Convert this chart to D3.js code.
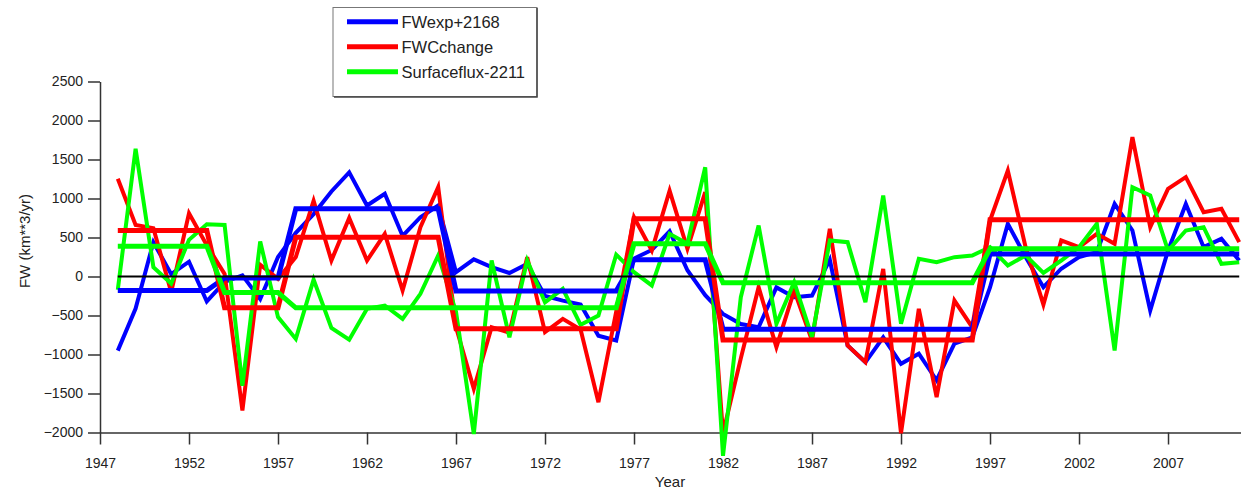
<!DOCTYPE html>
<html>
<head>
<meta charset="utf-8">
<script src="https://cdn.jsdelivr.net/npm/d3@7"></script>
<style>
  html, body { margin: 0; padding: 0; background: #fff; }
  svg { display: block; font-family: "Liberation Sans", Arial, sans-serif; }
</style>
</head>
<body>
<svg id="chart" width="1241" height="490"></svg>
<script>
// Annual freshwater budget terms, 1948-2011 (km^3/yr)
const years = d3.range(1948, 2012);

const fwExp = [
  -950, -410, 440, 30, 190, -320, -70, 15, -290, 250,
  560, 800, 1090, 1335, 910, 1060, 520, 760, 910, 55,
  220, 120, 45, 160, -250, -310, -360, -760, -820, 230,
  340, 580, 80, -240, -480, -610, -650, -140, -265, -245,
  215, -885, -1100, -780, -1120, -990, -1330, -860, -780, -140,
  675, 250, -137, 100, 248, 312, 930, 590, -436, 333,
  930, 376, 483, 205
];

const fwcChange = [
  1252, 660, 620, -200, 810, 400, 34, -1718, 150, -30,
  250, 970, 205, 750, 205, 547, -180, 632, 1145, -650,
  -1440, -650, -720, 248, -714, -543, -680, -1611, -450, 760,
  333, 1100, 355, 1081, -2010, -1050, -137, -906, -180, -820,
  610, -885, -1098, 98, -2010, -415, -1547, -308, -650, 718,
  1359, 376, -360, 462, 376, 547, 419, 1787, 632, 1124,
  1274, 825, 868, 440
];

const surfaceFlux = [
  -170, 1637, 120, -90, 470, 670, 660, -1400, 450, -521,
  -800, -40, -660, -810, -415, -372, -543, -222, 270, -450,
  -2020, 205, -778, 205, -330, -158, -620, -500, 280, 55,
  -115, 547, 419, 1400, -2300, -265, 654, -607, -73, -778,
  462, 440, -329, 1039, -607, 226, 184, 248, 270, 376,
  141, 270, 45, 205, 376, 675, -949, 1145, 1039, 333,
  590, 632, 162, 184
];

// Regime periods and the mean of each series over them
const regimeStart = [1948, 1954, 1958, 1967, 1977, 1982, 1997];
const regimeEnd   = [1953, 1957, 1966, 1976, 1981, 1996, 2011];
const fwExpMean       = [-180, -20, 870, -185, 214, -675, 290];
const fwcChangeMean   = [590, -400, 502, -671, 739, -815, 727];
const surfaceFluxMean = [389, -205, -402, -402, 419, -80, 355];

const seriesNames = ["FWexp+2168", "FWCchange", "Surfaceflux-2211"];
const seriesColors = ["#0000ff", "#ff0000", "#00ff00"];

const yTicks = d3.range(-2000, 2501, 500);
const xTicks = d3.range(1947, 2008, 5);

const svg = d3.select("#chart");

const x = d3.scaleLinear().domain([1947, 2011.1]).range([100, 1241]);
const y = d3.scaleLinear().domain([-2000, 2500]).range([432.5, 81.5]);

// Axes
const axisColor = "#333";
const gx = svg.append("g")
  .attr("transform", `translate(0,${y(-2000)})`)
  .call(d3.axisBottom(x).tickValues(xTicks).tickFormat(d3.format("d"))
    .tickSize(12).tickSizeOuter(0).tickPadding(14));
const gy = svg.append("g")
  .attr("transform", `translate(${x(1947)},0)`)
  .call(d3.axisLeft(y).tickValues(yTicks).tickFormat(d3.format("d"))
    .tickSize(12).tickSizeOuter(0).tickPadding(5));

[gx, gy].forEach(g => {
  g.select(".domain").attr("stroke", axisColor).attr("stroke-width", 1.5);
  g.selectAll(".tick line").attr("stroke", axisColor).attr("stroke-width", 1.5);
  g.selectAll(".tick text").attr("fill", "#222").attr("font-size", 14)
    .attr("font-family", "Liberation Sans, Arial, sans-serif");
});

// Axis titles
svg.append("text")
  .attr("x", 670).attr("y", 487)
  .attr("text-anchor", "middle")
  .attr("font-size", 15).attr("fill", "#222")
  .text("Year");

svg.append("text")
  .attr("transform", `translate(30,241) rotate(-90)`)
  .attr("text-anchor", "middle")
  .attr("font-size", 15).attr("fill", "#222")
  .text("FW (km**3/yr)");

// Lines
const line = d3.line().x(d => x(d[0])).y(d => y(d[1]));

function stepPoints(means) {
  const pts = [];
  means.forEach((m, i) => {
    pts.push([regimeStart[i], m]);
    pts.push([regimeEnd[i], m]);
  });
  return pts;
}

const plot = svg.append("g");
const yearly = [fwExp, fwcChange, surfaceFlux];
const means = [fwExpMean, fwcChangeMean, surfaceFluxMean];

yearly.forEach((vals, i) => {
  plot.append("path")
    .datum(years.map((yr, j) => [yr, vals[j]]))
    .attr("d", line)
    .attr("fill", "none")
    .attr("stroke", seriesColors[i])
    .attr("stroke-width", 4)
    .attr("stroke-linejoin", "miter");
});

means.forEach((m, i) => {
  plot.append("path")
    .datum(stepPoints(m))
    .attr("d", line)
    .attr("fill", "none")
    .attr("stroke", seriesColors[i])
    .attr("stroke-width", 5);
});

// Zero reference line
plot.append("path")
  .datum([[years[0], 0], [years[years.length - 1], 0]])
  .attr("d", line)
  .attr("fill", "none")
  .attr("stroke", "#000")
  .attr("stroke-width", 2);

// Legend
const legend = svg.append("g");
legend.append("rect")
  .attr("x", 333).attr("y", 7.5)
  .attr("width", 204).attr("height", 89)
  .attr("fill", "#fff")
  .attr("stroke", "#777").attr("stroke-width", 1);
legend.append("path")
  .attr("d", "M537,8 V97 H334")
  .attr("fill", "none").attr("stroke", "#444").attr("stroke-width", 1.5);

seriesNames.forEach((name, i) => {
  const cy = 21.7 + i * 25;
  legend.append("line")
    .attr("x1", 347).attr("x2", 398)
    .attr("y1", cy).attr("y2", cy)
    .attr("stroke", seriesColors[i]).attr("stroke-width", 5);
  legend.append("text")
    .attr("x", 401.5).attr("y", cy)
    .attr("dy", "0.36em")
    .attr("font-size", 16.5).attr("fill", "#222")
    .text(name);
});
</script>
</body>
</html>
